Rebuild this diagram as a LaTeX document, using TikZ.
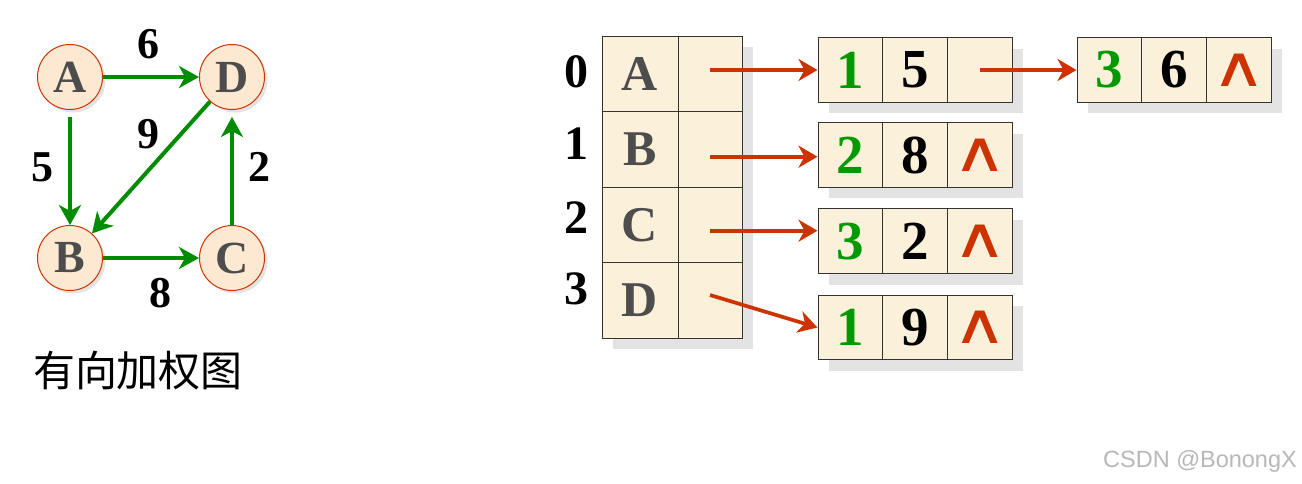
\documentclass[tikz,border=0pt]{standalone}
\usepackage{fontspec}
\setmainfont{Liberation Serif}
\newfontfamily\cjk{Noto Sans CJK SC}
\newfontfamily\dvs{DejaVu Sans}
\newfontfamily\lsans{Liberation Sans}
\usetikzlibrary{arrows.meta,calc}
\definecolor{parch}{HTML}{FBF0DA}
\definecolor{circfill}{HTML}{FDE9D2}
\definecolor{redc}{RGB}{204,51,0}
\definecolor{greenc}{RGB}{0,140,0}
\definecolor{digitgreen}{RGB}{0,153,0}
\definecolor{lettergray}{RGB}{77,77,77}
\definecolor{shadowc}{HTML}{E3E3E3}
\newcommand{\nullmark}{\scalebox{1.35}[1]{∧}}
\tikzset{
  vert/.style={circle, draw=redc, line width=1pt, fill=circfill, minimum size=65pt, inner sep=0pt,
    text=lettergray, font=\fontsize{46}{50}\selectfont\bfseries},
  wlabel/.style={font=\fontsize{44}{50}\selectfont\bfseries, inner sep=0pt},
  garrow/.style={draw=greenc, line width=4pt, -{Stealth[length=20pt,width=22pt,inset=6pt]}},
  rarrow/.style={draw=redc, line width=3.7pt, -{Stealth[length=19pt,width=22pt,inset=6pt]}},
  tcell/.style={rectangle, draw=black!80, line width=1pt, fill=parch, inner sep=0pt,
    minimum height=75.5pt, text=lettergray, font=\fontsize{50}{55}\selectfont\bfseries},
  lcell/.style={rectangle, draw=black!80, line width=1pt, fill=parch, inner sep=0pt,
    minimum width=64.7pt, minimum height=64.6pt, font=\fontsize{55}{60}\selectfont\bfseries},
  nullp/.style={text=redc, font=\dvs\fontsize{56}{60}\selectfont},
  idx/.style={font=\fontsize{48}{52}\selectfont\bfseries, inner sep=0pt}
}
\begin{document}
\begin{tikzpicture}[x=1pt,y=-1pt]
\useasboundingbox (0,0) rectangle (1302,483);
\fill[white] (0,0) rectangle (1302,483);

% ---------- graph ----------
\foreach \px/\py in {70/77,232/77,70/258,232/258}
  \fill[shadowc] (\px+3,\py+3) circle (32.5pt);
\node[vert] (A) at (70,77) {A};
\node[vert] (D) at (232,77) {D};
\node[vert] (B) at (70,258) {B};
\node[vert] (C) at (232,258) {C};

\draw[garrow] (A) -- (D);
\draw[garrow, shorten <=7pt] (A) -- (B);
\draw[garrow] (D) -- (B);
\draw[garrow] (B) -- (C);
\draw[garrow, shorten >=7pt] (C) -- (D);

\node[wlabel] (w6) at (148,44) {6};
\node[wlabel] (w9) at (148,134) {9};
\node[wlabel] (w5) at (42,167) {5};
\node[wlabel] (w2) at (259,167) {2};
\node[wlabel] (w8) at (160,293) {8};

\node[font=\cjk\fontsize{42}{46}\selectfont, inner sep=0pt] (title) at (138,371) {有向加权图};

% ---------- adjacency table ----------
\fill[shadowc] (613,47) rectangle (753,349);
\foreach \r/\y/\L in {0/73.75/A,1/149.25/B,2/224.75/C,3/300.25/D}{
  \node[tcell, minimum width=76pt] (t\r a) at (640,\y) {\L};
  \node[tcell, minimum width=64pt] (t\r b) at (710,\y) {};
}
\node[idx] (i0) at (576,72) {0};
\node[idx] (i1) at (576,144) {1};
\node[idx] (i2) at (576,218) {2};
\node[idx] (i3) at (576,289) {3};

% ---------- edge list nodes ----------
% row 0, first node
\fill[shadowc] (829,48.7) rectangle (1023,113.3);
\node[lcell] (n0a) at (850.35,70) {\textcolor{digitgreen}{1}};
\node[lcell] (n0b) at (915.05,70) {5};
\node[lcell] (n0c) at (979.75,70) {};
% row 0, second node
\fill[shadowc] (1088,48.5) rectangle (1282,113.2);
\node[lcell] (m0a) at (1109.35,69.9) {\textcolor{digitgreen}{3}};
\node[lcell] (m0b) at (1174.05,69.9) {6};
\node[lcell, nullp] (m0c) at (1238.75,69.9) {\nullmark};
% rows 1..3
\foreach \r/\y/\g/\w in {1/155/2/8,2/241.2/3/2,3/327.5/1/9}{
  \fill[shadowc] (829,\y-21.3) rectangle (1023,\y+43.3);
  \node[lcell] (n\r a) at (850.35,\y) {\textcolor{digitgreen}{\g}};
  \node[lcell] (n\r b) at (915.05,\y) {\w};
  \node[lcell, nullp] (n\r c) at (979.75,\y) {\nullmark};
}

% ---------- pointers ----------
\coordinate (s0) at (710,70);
\coordinate (s1) at (710,156.7);
\coordinate (s2) at (710,230.7);
\coordinate (s3) at (710,295);
\coordinate (s4) at (980,70);
\draw[rarrow] (s0) -- (s0 -| n0a.west);
\draw[rarrow] (s1) -- (s1 -| n1a.west);
\draw[rarrow] (s2) -- (s2 -| n2a.west);
\draw[rarrow] (s3) -- (n3a.west);
\draw[rarrow] (s4) -- (s4 -| m0a.west);

% ---------- watermark ----------
\node[font=\lsans\fontsize{23.5}{26}\selectfont, text=black!28, inner sep=0pt] (wm) at (1200,461) {CSDN @BonongX};
\end{tikzpicture}
\end{document}
